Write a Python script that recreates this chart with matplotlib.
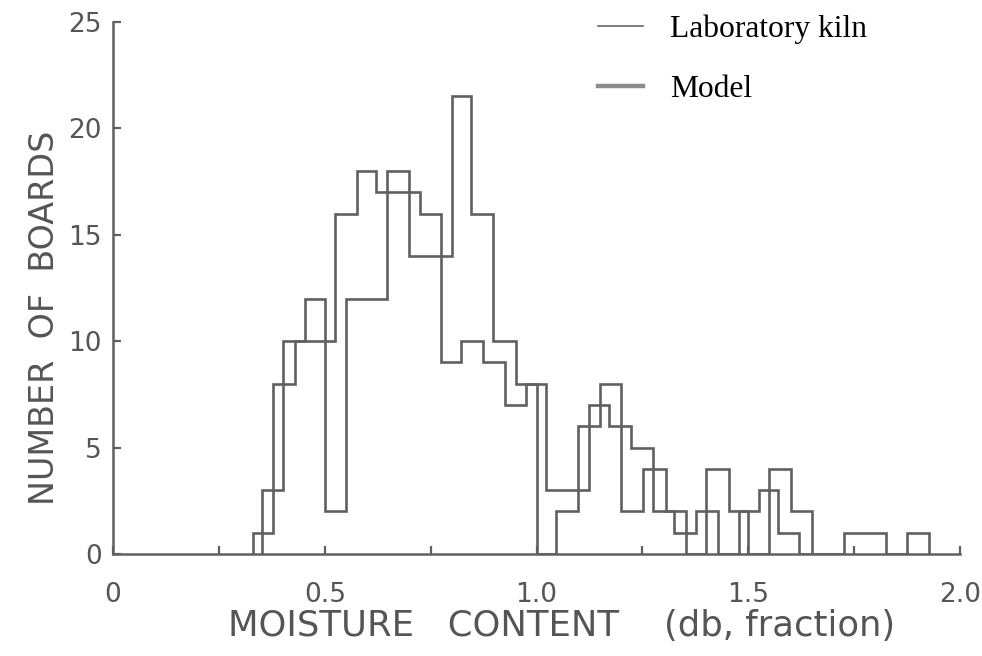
import matplotlib.pyplot as plt
from matplotlib.lines import Line2D

# moisture content histograms, outlined as steps (bin edges in db fraction)
kiln_edges = [0.33, 0.378, 0.429, 0.524, 0.575, 0.622, 0.724, 0.775, 0.822,
              0.873, 0.925, 0.976, 1.023, 1.125, 1.172, 1.223, 1.274, 1.325,
              1.377, 1.428, 1.479, 1.526, 1.57, 1.62, 1.726, 1.825, 1.876, 1.927]
kiln_counts = [1, 8, 10, 16, 18, 17, 16, 9, 10, 9, 7, 8, 3, 7, 6, 5, 2, 1,
               2, 0, 2, 3, 1, 0, 1, 0, 1]

model_edges = [0.351, 0.402, 0.453, 0.5, 0.551, 0.646, 0.70, 0.80, 0.846,
               0.897, 0.952, 1.0, 1.046, 1.097, 1.149, 1.2, 1.251, 1.306,
               1.353, 1.40, 1.455, 1.50, 1.55, 1.60, 1.65]
model_counts = [3, 10, 12, 2, 12, 18, 14, 21.5, 16, 10, 8, 0, 2, 6, 8, 2, 4,
                2, 0, 4, 2, 0, 4, 2]

x_ticks = [0, 0.25, 0.5, 0.75, 1.0, 1.25, 1.5, 1.75, 2.0]
x_labels = ["0", "", "0.5", "", "1.0", "", "1.5", "", "2.0"]
y_ticks = [0, 5, 10, 15, 20, 25]

ink = "#606060"
txt = "#555555"

fig = plt.figure(figsize=(9.82, 6.56), dpi=100)
ax = fig.add_axes([0.1151, 0.1555, 0.8625, 0.811])

ax.stairs(kiln_counts, kiln_edges, baseline=0, color=ink, lw=1.9)
ax.stairs(model_counts, model_edges, baseline=0, color=ink, lw=1.9)

ax.set_xlim(0, 2.0)
ax.set_ylim(0, 25)
for side in ("top", "right"):
    ax.spines[side].set_visible(False)
for side in ("left", "bottom"):
    ax.spines[side].set_color(ink)
    ax.spines[side].set_linewidth(1.8)

ax.set_xticks(x_ticks, x_labels)
ax.set_yticks(y_ticks)
ax.tick_params(direction="in", length=6, width=1.6, color=ink,
               labelsize=19, labelcolor=txt)
ax.tick_params(axis="x", pad=20)
ax.tick_params(axis="y", pad=8)

ax.set_xlabel("MOISTURE   CONTENT    (db, fraction)", fontsize=25.5, color=txt)
ax.xaxis.set_label_coords(0.529, -0.103)
ax.set_ylabel("NUMBER  OF  BOARDS", fontsize=24, color=txt)
ax.yaxis.set_label_coords(-0.062, 0.444)

handles = [Line2D([], [], color="#666666", lw=1.2),
           Line2D([], [], color="#8c8c8c", lw=3.2)]
ax.legend(handles, ["Laboratory kiln", "Model"], loc="upper left",
          bbox_to_anchor=(0.573, 1.014), frameon=False, handlelength=1.42,
          handletextpad=0.85, labelspacing=0.98, borderpad=0, borderaxespad=0,
          prop={"family": "Liberation Serif", "size": 22.7})

fig.savefig("out.png", dpi=100)
